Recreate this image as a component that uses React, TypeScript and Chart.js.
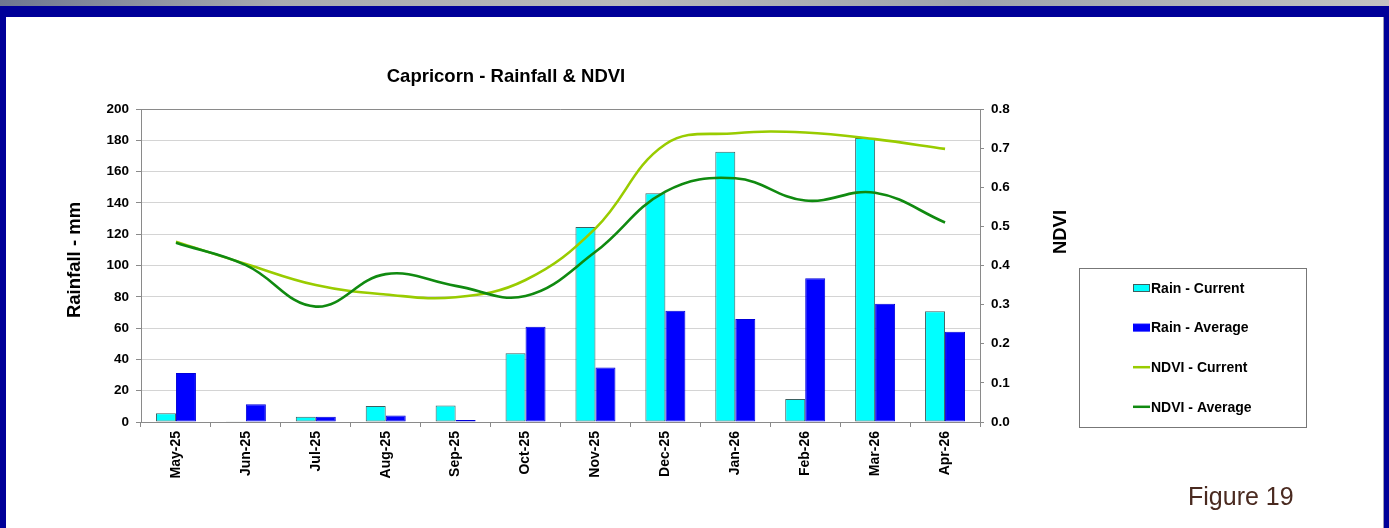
import React, { useEffect, useRef } from "react";
import { Chart, registerables } from "chart.js";

Chart.register(...registerables);

const months = [
  "May-25", "Jun-25", "Jul-25", "Aug-25", "Sep-25", "Oct-25",
  "Nov-25", "Dec-25", "Jan-26", "Feb-26", "Mar-26", "Apr-26",
];
const rainCurrent = [5.6, 0.5, 3.4, 10.2, 10.6, 43.9, 124.6, 146.1, 172.7, 14.7, 181.5, 70.7];
const rainAverage = [31.3, 11.3, 3.4, 4.2, 1.3, 60.9, 34.9, 71.1, 65.8, 91.8, 75.6, 57.7];
const ndviCurrent = [0.461, 0.404, 0.35, 0.326, 0.319, 0.363, 0.495, 0.71, 0.738, 0.74, 0.723, 0.698];
const ndviAverage = [0.458, 0.401, 0.295, 0.378, 0.348, 0.322, 0.435, 0.589, 0.623, 0.566, 0.586, 0.51];
const rainTicks = { min: 0, max: 200, step: 20 };
const ndviTicks = { min: 0, max: 0.8, step: 0.1 };

const W = 1389;
const H = 528;
const FONT = '"Liberation Sans", Arial, sans-serif';
const CYAN = "#00FFFF";
const BLUE = "#0000FF";
const LIME = "#99CC00";
const GREEN = "#108A10";
const AXIS = "#8a8a8a";

const legendItems = [
  { label: "Rain - Current", kind: "bar", color: CYAN, border: "#3d6060" },
  { label: "Rain - Average", kind: "bar", color: BLUE, border: BLUE },
  { label: "NDVI - Current", kind: "line", color: LIME, border: LIME },
  { label: "NDVI - Average", kind: "line", color: GREEN, border: GREEN },
];

// Slide frame behind the chart: grey strip, navy border, white panel
const framePlugin = {
  id: "frame",
  beforeDraw(chart: any) {
    const { ctx } = chart;
    ctx.save();
    ctx.fillStyle = "#000099";
    ctx.fillRect(0, 0, W, H);
    const g = ctx.createLinearGradient(0, 0, W, 0);
    g.addColorStop(0, "#6f7890");
    g.addColorStop(0.2, "#a8aab0");
    g.addColorStop(0.45, "#b9b9bb");
    g.addColorStop(0.7, "#9ea3ad");
    g.addColorStop(1, "#c2c2c2");
    ctx.fillStyle = g;
    ctx.fillRect(0, 0, W, 6);
    ctx.fillStyle = "#ffffff";
    ctx.fillRect(6, 17, 1377, H - 17);
    ctx.fillStyle = "#9a9ab8";
    ctx.fillRect(1383, 17, 1, H - 17);
    ctx.restore();
  },
};

// Title, axis titles, boxed legend and figure caption
const textPlugin = {
  id: "texts",
  afterDraw(chart: any) {
    const { ctx, chartArea } = chart;
    ctx.save();
    ctx.fillStyle = "#000";
    ctx.textAlign = "center";
    ctx.textBaseline = "middle";
    ctx.font = `bold 18.5px ${FONT}`;
    ctx.fillText("Capricorn - Rainfall & NDVI", 506, 77);

    ctx.save();
    ctx.translate(75, 260);
    ctx.rotate(-Math.PI / 2);
    ctx.fillText("Rainfall - mm", 0, 0);
    ctx.restore();

    ctx.save();
    ctx.translate(1061, 232);
    ctx.rotate(-Math.PI / 2);
    ctx.fillText("NDVI", 0, 0);
    ctx.restore();

    // top border of the plot area
    ctx.strokeStyle = AXIS;
    ctx.lineWidth = 1;
    ctx.beginPath();
    ctx.moveTo(chartArea.left, chartArea.top + 0.5);
    ctx.lineTo(chartArea.right, chartArea.top + 0.5);
    ctx.stroke();

    // legend box
    ctx.fillStyle = "#fff";
    ctx.fillRect(1079.5, 268.5, 227, 159);
    ctx.strokeStyle = "#777";
    ctx.strokeRect(1079.5, 268.5, 227, 159);
    ctx.font = `bold 14px ${FONT}`;
    ctx.textAlign = "left";
    legendItems.forEach((it, i) => {
      const y = 288 + i * 39.6;
      if (it.kind === "bar") {
        ctx.fillStyle = it.color;
        ctx.fillRect(1133.5, y - 3.5, 16, 7);
        ctx.strokeStyle = it.border;
        ctx.strokeRect(1133.5, y - 3.5, 16, 7);
      } else {
        ctx.strokeStyle = it.color;
        ctx.lineWidth = 2.5;
        ctx.beginPath();
        ctx.moveTo(1133, y);
        ctx.lineTo(1150, y);
        ctx.stroke();
        ctx.lineWidth = 1;
      }
      ctx.fillStyle = "#000";
      ctx.fillText(it.label, 1151, y + 1);
    });

    ctx.fillStyle = "#4a2a20";
    ctx.font = `25px ${FONT}`;
    ctx.textBaseline = "alphabetic";
    ctx.fillText("Figure 19", 1188, 505);
    ctx.restore();
  },
};

export default function App() {
  const ref = useRef<HTMLCanvasElement | null>(null);

  useEffect(() => {
    if (!ref.current) return;
    const chart = new Chart(ref.current, {
      type: "bar",
      data: {
        labels: months,
        datasets: [
          {
            type: "line",
            label: "NDVI - Average",
            data: ndviAverage,
            yAxisID: "y1",
            borderColor: GREEN,
            borderWidth: 2.6,
            pointRadius: 0,
            tension: 0.4,
            fill: false,
            order: 0,
          },
          {
            type: "line",
            label: "NDVI - Current",
            data: ndviCurrent,
            yAxisID: "y1",
            borderColor: LIME,
            borderWidth: 2.6,
            pointRadius: 0,
            tension: 0.4,
            fill: false,
            order: 0,
          },
          {
            label: "Rain - Current",
            data: rainCurrent,
            yAxisID: "y",
            backgroundColor: CYAN,
            borderColor: "#3d6060",
            borderWidth: 1,
            borderSkipped: false,
            categoryPercentage: 0.572,
            barPercentage: 1,
            order: 1,
          },
          {
            label: "Rain - Average",
            data: rainAverage,
            yAxisID: "y",
            backgroundColor: BLUE,
            borderColor: "#0000d8",
            borderWidth: 1,
            borderSkipped: false,
            categoryPercentage: 0.572,
            barPercentage: 1,
            order: 1,
          },
        ],
      } as any,
      options: {
        responsive: false,
        animation: false,
        devicePixelRatio: 1,
        layout: { padding: { left: 41, right: 0, top: 109, bottom: 0 } },
        plugins: {
          legend: { display: false },
          title: { display: false },
          tooltip: { enabled: false },
        },
        scales: {
          x: {
            type: "category",
            offset: true,
            grid: {
              offset: true,
              drawOnChartArea: false,
              drawTicks: true,
              tickLength: 5,
              tickColor: AXIS,
            },
            border: { color: AXIS, width: 1 },
            ticks: {
              autoSkip: false,
              maxRotation: 90,
              minRotation: 90,
              padding: 4,
              color: "#000",
              font: { family: FONT, size: 14, weight: "bold" },
            },
            afterFit(scale: any) {
              scale.height = 106;
            },
          },
          y: {
            position: "left",
            min: rainTicks.min,
            max: rainTicks.max,
            ticks: {
              stepSize: rainTicks.step,
              padding: 7,
              color: "#000",
              font: { family: FONT, size: 13.5, weight: "bold" },
            },
            grid: {
              color: "#d4d4d4",
              tickColor: AXIS,
              tickLength: 5,
            },
            border: { color: AXIS, width: 1 },
            afterFit(scale: any) {
              scale.width = 100;
            },
          },
          y1: {
            position: "right",
            min: ndviTicks.min,
            max: ndviTicks.max,
            ticks: {
              stepSize: ndviTicks.step,
              padding: 7,
              color: "#000",
              font: { family: FONT, size: 13.5, weight: "bold" },
              callback: (v: any) => Number(v).toFixed(1),
            },
            grid: {
              drawOnChartArea: false,
              tickColor: AXIS,
              tickLength: 4,
            },
            border: { color: AXIS, width: 1 },
            afterFit(scale: any) {
              scale.width = W - 980;
            },
          },
        },
      } as any,
      plugins: [framePlugin, textPlugin],
    });
    return () => chart.destroy();
  }, []);

  return (
    <div style={{ position: "fixed", left: 0, top: 0, width: W, height: H }}>
      <canvas ref={ref} width={W} height={H} style={{ width: W, height: H, display: "block" }} />
    </div>
  );
}
